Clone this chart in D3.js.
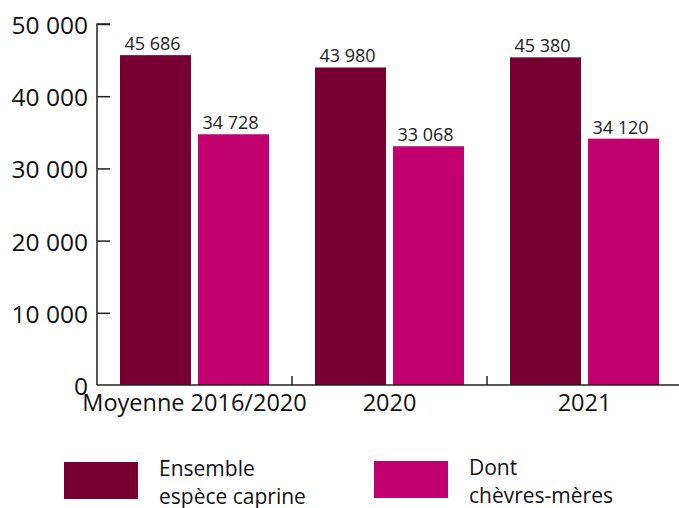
<!DOCTYPE html>
<html>
<head>
<meta charset="utf-8">
<script src="https://cdn.jsdelivr.net/npm/d3@7"></script>
<style>
  body { margin: 0; background: #fff; }
  svg { display: block; font-family: "Open Sans", sans-serif; }
</style>
</head>
<body>
<svg id="chart"></svg>
<script>
  // data
  const categories = ["Moyenne 2016/2020", "2020", "2021"];
  const seriesNames = [["Ensemble", "espèce caprine"], ["Dont", "chèvres-mères"]];
  const ensemble = [45686, 43980, 45380];
  const chevres = [34728, 33068, 34120];
  const yTicks = [0, 10000, 20000, 30000, 40000, 50000];
  const colors = ["#770031", "#c1006e"];

  const width = 679, height = 508;
  const x0 = 97, x1 = 682, yTop = 24, yBottom = 385;

  const svg = d3.select("#chart").attr("width", width).attr("height", height);

  const x = d3.scaleBand().domain(categories).range([x0, x1]);
  const xs = d3.scaleBand().domain([0, 1]).range([23, x.bandwidth() - 23]).paddingInner(0.09);
  const y = d3.scaleLinear().domain([0, 50000]).range([yBottom, yTop]);

  const fmt = v => d3.format(",")(v).replace(/,/g, " ");

  const rows = categories.map((c, i) => ({ cat: c, vals: [ensemble[i], chevres[i]] }));

  // bars
  const g = svg.append("g");
  const grp = g.selectAll("g").data(rows).join("g")
    .attr("transform", d => `translate(${x(d.cat)},0)`);
  grp.selectAll("rect")
    .data(d => d.vals.map((v, k) => ({ v, k })))
    .join("rect")
    .attr("x", d => xs(d.k))
    .attr("width", xs.bandwidth())
    .attr("y", d => y(d.v))
    .attr("height", d => y(0) - y(d.v))
    .attr("fill", d => colors[d.k]);
  grp.selectAll("text")
    .data(d => d.vals.map((v, k) => ({ v, k })))
    .join("text")
    .attr("x", d => xs(d.k) + xs.bandwidth() / 2 - 3)
    .attr("y", d => y(d.v) - 5)
    .attr("text-anchor", "middle")
    .attr("font-size", 18)
    .attr("fill", "#222")
    .text(d => fmt(d.v));

  // y axis
  const yAxis = svg.append("g").attr("transform", `translate(${x0},0)`)
    .call(d3.axisRight(y).tickValues(yTicks).tickSize(13).tickFormat(""));
  yAxis.select(".domain").attr("d", `M13,${yTop}H0V${yBottom}`).attr("stroke", "#222").attr("stroke-width", 1.5);
  yAxis.selectAll(".tick line").attr("stroke", "#222").attr("stroke-width", 1.5);
  yAxis.selectAll(".tick").filter(d => d === 0).select("line").remove();
  svg.append("g").selectAll("text").data(yTicks).join("text")
    .attr("x", 88)
    .attr("y", d => y(d) + 10)
    .attr("text-anchor", "end")
    .attr("font-size", 24.5)
    .attr("fill", "#111")
    .text(d => fmt(d));

  // x axis
  svg.append("line").attr("x1", x0).attr("x2", width).attr("y1", yBottom).attr("y2", yBottom)
    .attr("stroke", "#222").attr("stroke-width", 1.5);
  svg.append("g").selectAll("line").data(categories.slice(1)).join("line")
    .attr("x1", d => x(d)).attr("x2", d => x(d))
    .attr("y1", yBottom).attr("y2", yBottom - 9)
    .attr("stroke", "#222").attr("stroke-width", 1.5);
  svg.append("g").selectAll("text").data(categories).join("text")
    .attr("x", d => x(d) + x.bandwidth() / 2)
    .attr("y", 411)
    .attr("text-anchor", "middle")
    .attr("font-size", 23.5)
    .attr("fill", "#111")
    .text(d => d);

  // legend
  const legendX = [64, 374];
  const legendY = [462, 461];
  const lg = svg.append("g").selectAll("g").data(seriesNames).join("g")
    .attr("transform", (d, i) => `translate(${legendX[i]},${legendY[i]})`);
  lg.append("rect").attr("width", 74).attr("height", 37).attr("fill", (d, i) => colors[i]);
  lg.append("text")
    .attr("font-size", 21)
    .attr("fill", "#111")
    .selectAll("tspan").data(d => d).join("tspan")
    .attr("x", 95)
    .attr("y", (d, j) => 14 + j * 28)
    .text(d => d);
</script>
</body>
</html>
